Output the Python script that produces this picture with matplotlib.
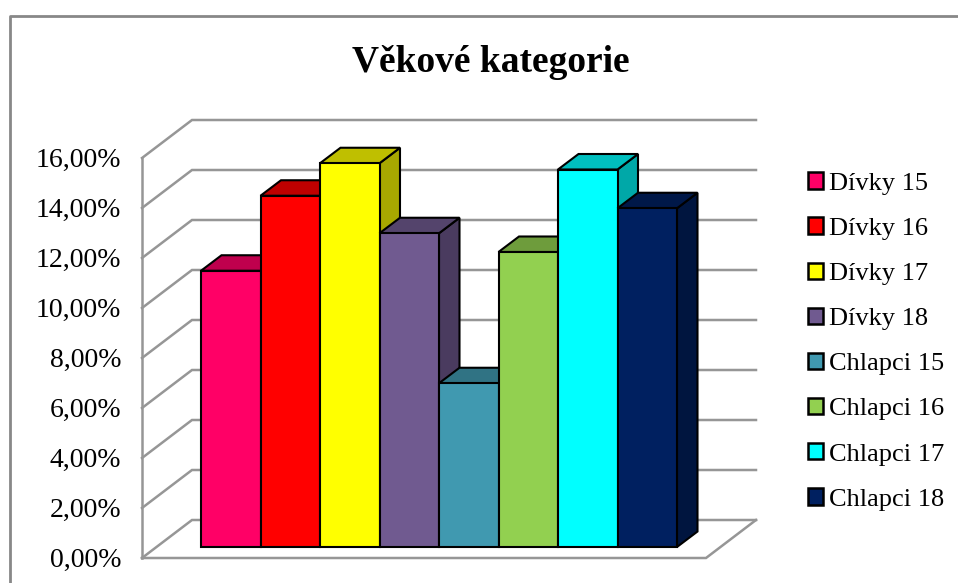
import matplotlib
matplotlib.use("Agg")
import matplotlib.pyplot as plt
from matplotlib.patches import Patch, Polygon
from matplotlib.colors import to_rgb

# -------------------------------
# Data
# -------------------------------
labels = ["Dívky 15", "Dívky 16", "Dívky 17", "Dívky 18",
          "Chlapci 15", "Chlapci 16", "Chlapci 17", "Chlapci 18"]
values = [11.05, 14.05, 15.35, 12.55, 6.55, 11.8, 15.1, 13.55]
colors = ["#FF0066", "#FF0000", "#FFFF00", "#705A90",
          "#4099B0", "#92D050", "#00FFFF", "#002060"]
ticks = [0, 2, 4, 6, 8, 10, 12, 14, 16]

W, H = 958, 583
plt.rcParams["font.family"] = ["Liberation Serif", "DejaVu Serif"]

fig = plt.figure(figsize=(W / 100, H / 100), dpi=100, facecolor="white")
ax = fig.add_axes([0, 0, 1, 1])

# one category = 59.5 px, one percent = 25 px, first bar starts at px 201, zero at px 547
PX = 1 / 59.5
PY = 1 / 25
ax.set_xlim(-201 * PX, (W - 201) * PX)
ax.set_ylim(-(H - 547) * PY, 547 * PY)
ax.axis("off")

# outer chart border (runs off the bottom and the right of the picture)
ax.plot([(10 - 201) * PX, (10 - 201) * PX, (W - 201) * PX], [-(H - 547) * PY, (547 - 16) * PY, (547 - 16) * PY],
        color="#888888", lw=2, solid_capstyle="butt", clip_on=False)

# -------------------------------
# Walls and floor
# -------------------------------
wall_x = (142 - 201) * PX
wall_y = -(558 - 547) * PY
back_dx = 50 * PX
back_dy = 38 * PY
right_x = (706 - 201) * PX
grid = dict(color="#969696", lw=1.8, solid_joinstyle="miter", zorder=1)

for t in ticks:
    ax.plot([wall_x, wall_x + back_dx, right_x + back_dx],
            [wall_y + t, wall_y + t + back_dy, wall_y + t + back_dy], **grid)
    ax.text(wall_x - 21 * PX, wall_y + t - 2 * PY, f"{t},00%", ha="right", va="center",
            fontsize=20, color="black")

ax.plot([wall_x, wall_x], [wall_y, wall_y + ticks[-1]], **grid)
ax.plot([wall_x, right_x, right_x + back_dx], [wall_y, wall_y, wall_y + back_dy], **grid)

# -------------------------------
# 3D bars
# -------------------------------
dx = 20.5 * PX
dy = 15.5 * PY


def shade(color, f):
    r, g, b = to_rgb(color)
    return (r * f, g * f, b * f)


for i, (v, c) in enumerate(zip(values, colors)):
    edge = dict(edgecolor="black", lw=1.5, joinstyle="miter", zorder=3 + i)
    ax.add_patch(Polygon([(i + 1, 0), (i + 1 + dx, dy), (i + 1 + dx, v + dy), (i + 1, v)],
                         facecolor=shade(c, 0.66), **edge))
    ax.add_patch(Polygon([(i, v), (i + dx, v + dy), (i + 1 + dx, v + dy), (i + 1, v)],
                         facecolor=shade(c, 0.75), **edge))
    ax.add_patch(Polygon([(i, 0), (i + 1, 0), (i + 1, v), (i, v)],
                         facecolor=c, **edge))

# -------------------------------
# Title and legend
# -------------------------------
ax.text((491 - 201) * PX, (547 - 62) * PY, "Věkové kategorie", ha="center", va="center",
        fontsize=27, fontweight="bold")

handles = [Patch(facecolor=c, edgecolor="black", lw=1.8) for c in colors]
ax.legend(handles, labels, loc="center left", bbox_to_anchor=(808 / W, 1 - 341.5 / H),
          bbox_transform=fig.transFigure, frameon=False, fontsize=19,
          handlelength=0.57, handleheight=0.57, handletextpad=0.23,
          labelspacing=0.86, borderpad=0, borderaxespad=0)

fig.savefig("out.png", dpi=100)
